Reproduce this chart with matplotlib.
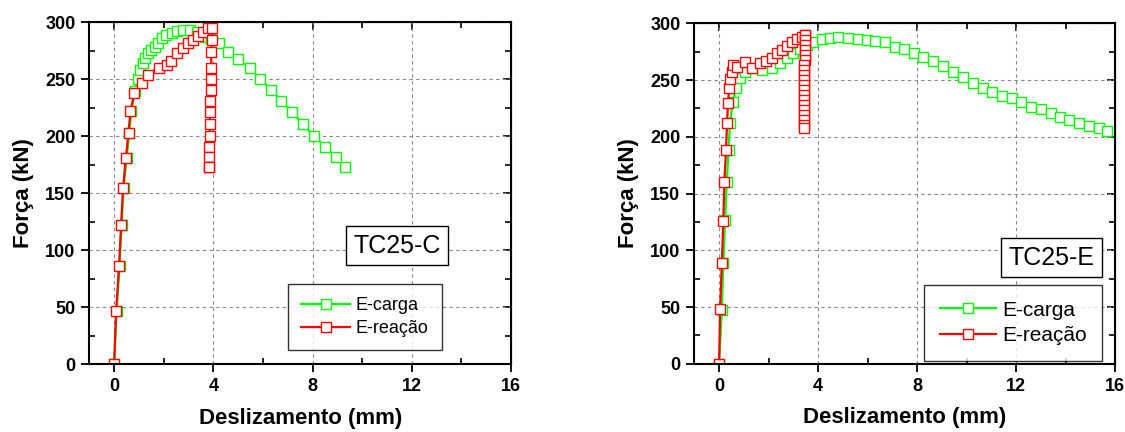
import matplotlib
matplotlib.use("Agg")
import matplotlib.pyplot as plt
from matplotlib.ticker import MultipleLocator

plt.rcParams["font.family"] = ["Liberation Sans", "DejaVu Sans"]

# TC25-C
c_carga_x = [0.0, 0.1, 0.22, 0.3, 0.38, 0.5, 0.61, 0.7, 0.85, 0.95, 1.05, 1.15, 1.25, 1.38,
             1.5, 1.65, 1.78, 1.92, 2.1, 2.33, 2.55, 2.79, 3.05, 3.33, 3.67, 3.9, 4.21, 4.61,
             5.01, 5.46, 5.89, 6.32, 6.73, 7.16, 7.60, 8.06, 8.50, 8.95, 9.31]
c_carga_y = [0, 47, 86.5, 122, 154.4, 180.7, 203.2, 222.5, 240, 250, 258, 264, 268.4, 272.8,
             275.5, 278.6, 282, 286, 288.5, 290.4, 292, 293.2, 293, 291.8, 287.4, 285, 281.6, 274,
             267.5, 259.6, 250.3, 240.6, 231.2, 221.6, 210.8, 200.3, 190.9, 182.1, 173.3]
c_reac_x = [0.0, 0.08, 0.2, 0.28, 0.36, 0.47, 0.58, 0.66, 0.82, 1.12, 1.38, 1.79, 2.12, 2.3,
            2.55, 2.79, 2.99, 3.2, 3.4, 3.6, 3.8, 3.94,
            3.93, 3.92, 3.91, 3.9, 3.89, 3.88, 3.87, 3.86, 3.85, 3.84, 3.84, 3.83, 3.83]
c_reac_y = [0, 47, 86.5, 122, 154.4, 180.7, 203.2, 222.5, 237.7, 246.5, 253.8, 260, 262.5, 266,
            272.8, 277.2, 281.6, 284.5, 288, 291.8, 294.7, 295,
            284.5, 274.2, 259.6, 250.3, 240.6, 231.2, 221.6, 210.8, 200.3, 190.9, 182.1, 173.3, 173.3]

# TC25-E
e_carga_x = [0.0, 0.11, 0.17, 0.24, 0.31, 0.38, 0.44, 0.55, 0.69, 0.85, 1.05, 1.32, 1.72, 2.12,
             2.46, 2.73, 3.0, 3.27, 3.54, 3.8, 4.14, 4.48, 4.81, 5.21, 5.62, 5.96, 6.29, 6.69,
             7.1, 7.46, 7.86, 8.24, 8.64, 9.05, 9.45, 9.85, 10.25, 10.66, 11.04, 11.44, 11.84,
             12.2, 12.61, 13.01, 13.41, 13.78, 14.15, 14.56, 14.96, 15.33, 15.66]
e_carga_y = [0, 47.3, 88.4, 126.6, 160.4, 188.3, 211.8, 230.8, 242.6, 251.4, 257.3, 260.2, 259.3, 260.2,
             264.7, 269.1, 273.5, 277, 280.8, 283.7, 285.8, 287, 287.6, 286.7, 285.8, 285.2, 284.4, 283.2,
             279.3, 277.3, 273.5, 270.5, 267, 262.3, 256.7, 252.9, 247.6, 243.2, 239.6, 235.9, 233.8,
             230.8, 226.4, 224.4, 220.6, 217.6, 214.7, 211.8, 209.4, 207.4, 205.3]
e_reac_x = [0.0, 0.04, 0.11, 0.17, 0.21, 0.28, 0.32, 0.36, 0.41, 0.44, 0.51, 0.57, 0.71, 1.05,
            1.32, 1.65, 1.9, 2.12, 2.33, 2.53, 2.73, 2.93, 3.13, 3.33, 3.47, 3.48,
            3.47, 3.47, 3.46, 3.46, 3.46, 3.45, 3.45, 3.45, 3.45, 3.44, 3.44, 3.44, 3.44,
            3.44, 3.44, 3.44, 3.44, 3.44, 3.44]
e_reac_y = [0, 47.9, 88.4, 126, 159.8, 188.3, 211.8, 230, 243.2, 250.6, 257.3, 263.2, 261.7, 266,
            260.2, 264.7, 267, 269.6, 273.5, 276.4, 280.3, 283.2, 285.8, 288.2, 289.6, 289.6,
            285.2, 280.8, 276.4, 272.0, 267.6, 263.2, 258.8, 254.4, 250.0, 245.6, 241.2, 236.8, 232.4,
            228.0, 223.6, 219.2, 214.8, 210.4, 207.4]

x_ticks = [0, 4, 8, 12, 16]
y_ticks = [0, 50, 100, 150, 200, 250, 300]

GREEN = "#00ff00"
RED = "#ff0000"

fig = plt.figure(figsize=(11.25, 4.32), dpi=100)
ax1 = fig.add_axes([0.0794, 0.1567, 0.3748, 0.792])
ax2 = fig.add_axes([0.6172, 0.158, 0.374, 0.788])

# (axes, series..., tag, legend font, tag centre, legend upper-left) in axes fraction
panels = [
    (ax1, c_carga_x, c_carga_y, c_reac_x, c_reac_y, "TC25-C", 13,
     (0.73, 0.346), (0.471, 0.235)),
    (ax2, e_carga_x, e_carga_y, e_reac_x, e_reac_y, "TC25-E", 15,
     (0.849, 0.312), (0.546, 0.231)),
]

for ax, gx, gy, rx, ry, tag, lfs, tagpos, legpos in panels:
    mk = dict(marker="s", markersize=7.5, markerfacecolor="white", markeredgewidth=1.0)
    lg, = ax.plot(gx, gy, color=GREEN, lw=1.6, markeredgecolor=GREEN, label="E-carga", **mk)
    lr, = ax.plot(rx, ry, color=RED, lw=1.6, markeredgecolor=RED, label="E-reação", **mk)
    ax.set_xlim(-1, 16)
    ax.set_ylim(0, 300)
    ax.set_xticks(x_ticks)
    ax.set_yticks(y_ticks)
    ax.xaxis.set_minor_locator(MultipleLocator(2))
    ax.yaxis.set_minor_locator(MultipleLocator(25))
    ax.grid(True, which="major", color="#888888", ls=(0, (3, 3)), lw=0.8)
    ax.set_axisbelow(True)
    for s in ax.spines.values():
        s.set_linewidth(1.5)
    ax.tick_params(which="major", direction="out", length=6, width=1.3, labelsize=13, pad=4)
    ax.tick_params(which="minor", direction="in", length=4, width=1.2)
    for lab in ax.get_xticklabels() + ax.get_yticklabels():
        lab.set_fontweight("bold")
    # inward ticks on the top and right sides
    sx = ax.secondary_xaxis("top")
    sx.set_xticks(x_ticks)
    sx.xaxis.set_minor_locator(MultipleLocator(2))
    sx.tick_params(which="both", direction="in", labeltop=False, width=1.2)
    sx.tick_params(which="major", length=6)
    sx.tick_params(which="minor", length=4)
    sy = ax.secondary_yaxis("right")
    sy.set_yticks(y_ticks)
    sy.yaxis.set_minor_locator(MultipleLocator(25))
    sy.tick_params(which="both", direction="in", labelright=False, width=1.2)
    sy.tick_params(which="major", length=6)
    sy.tick_params(which="minor", length=4)

    ax.set_xlabel("Deslizamento (mm)", fontsize=16, fontweight="bold", labelpad=9)
    ax.set_ylabel("Força (kN)", fontsize=16, fontweight="bold", labelpad=8)

    ax.text(tagpos[0], tagpos[1], tag, transform=ax.transAxes, fontsize=18,
            ha="center", va="center",
            bbox=dict(boxstyle="square,pad=0.3", fc="white", ec="black", lw=1.0))
    leg = ax.legend(handles=[lg, lr], loc="upper left", bbox_to_anchor=legpos,
                    borderaxespad=0, fontsize=lfs, numpoints=1, handlelength=2.7,
                    frameon=True, fancybox=False, borderpad=0.75, labelspacing=0.3,
                    handletextpad=0.3)
    leg.get_frame().set_edgecolor("black")
    leg.get_frame().set_linewidth(1.0)

fig.savefig("out.png", dpi=100)
